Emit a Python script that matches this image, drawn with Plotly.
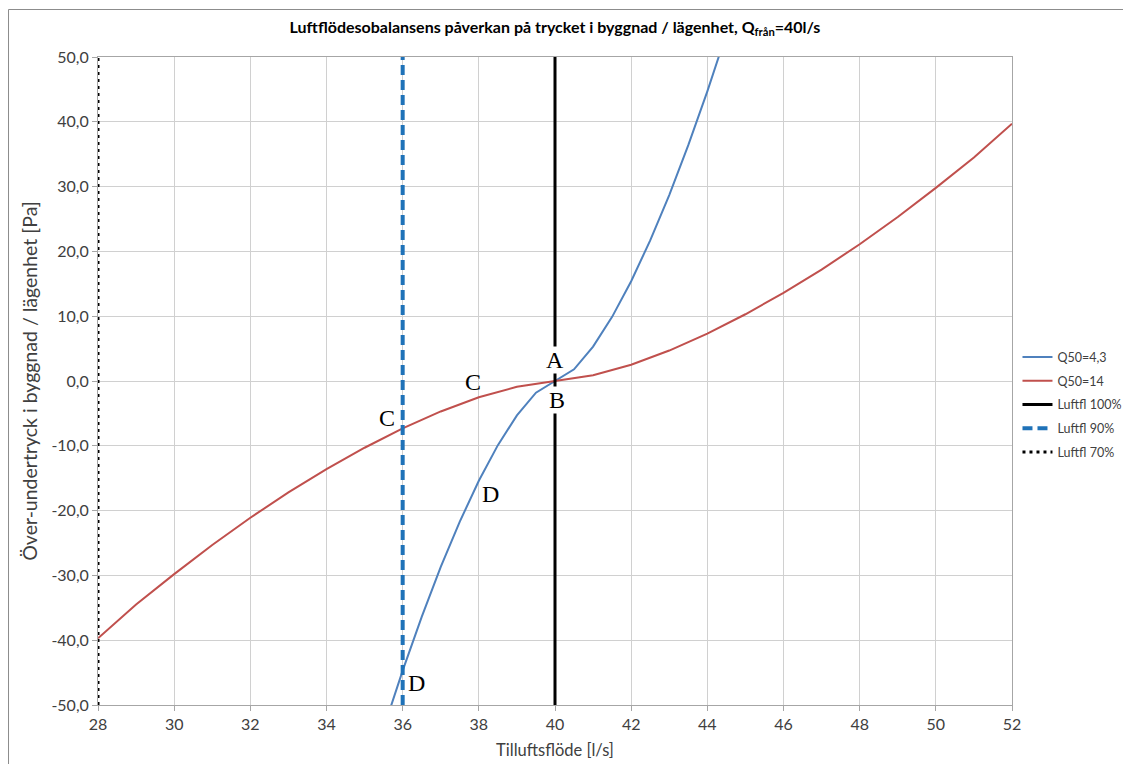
import plotly.graph_objects as go

# ---- data ----
red_name = "Q50=14"
red_x = [28, 29, 30, 31, 32, 33, 34, 35, 36, 37, 38, 39, 40, 41, 42, 43, 44, 45, 46, 47, 48, 49, 50, 51, 52]
red_y = [-39.7, -34.5, -29.8, -25.3, -21.1, -17.2, -13.6, -10.3, -7.3, -4.7, -2.5, -0.9, 0.0,
         0.9, 2.5, 4.7, 7.3, 10.3, 13.6, 17.2, 21.1, 25.3, 29.8, 34.5, 39.7]

blue_name = "Q50=4,3"
blue_x = [35.5, 36, 36.5, 37, 37.5, 38, 38.5, 39, 39.5, 40, 40.5, 41, 41.5, 42, 42.5, 43, 43.5, 44, 44.5]
blue_y = [-53.6, -44.7, -36.4, -28.7, -21.7, -15.4, -9.9, -5.3, -1.8, 0.0,
          1.8, 5.3, 9.9, 15.4, 21.7, 28.7, 36.4, 44.7, 53.6]

v100_name = "Luftfl 100%"
v100_x = [40, 40]
v100_y = [-50, 50]

v90_name = "Luftfl 90%"
v90_x = [36, 36]
v90_y = [-50, 50]

v70_name = "Luftfl 70%"
v70_x = [28, 28]
v70_y = [-50, 50]

x_ticks = [28, 30, 32, 34, 36, 38, 40, 42, 44, 46, 48, 50, 52]
y_ticks = [-50, -40, -30, -20, -10, 0, 10, 20, 30, 40, 50]
y_ticklabels = ["-50,0", "-40,0", "-30,0", "-20,0", "-10,0", "0,0", "10,0", "20,0", "30,0", "40,0", "50,0"]

point_labels = ["A", "B", "C", "C", "D", "D"]
point_x = [40.0, 40.05, 35.6, 37.85, 38.3, 36.35]
point_y = [3.2, -2.9, -5.7, -0.1, -17.4, -46.6]
point_bg = [True, True, False, False, False, False]

title_text = "<b>Luftflödesobalansens påverkan på trycket i byggnad / lägenhet, Q<sub>från</sub>=40l/s</b>"
x_title = "Tilluftsflöde [l/s]"
y_title = "Över-undertryck i byggnad / lägenhet [Pa]"

FONT = "Lato, 'Open Sans', sans-serif"
GREY = "#404040"

fig = go.Figure()
fig.add_trace(go.Scatter(x=blue_x, y=blue_y, mode="lines", name=blue_name, legendgroup="g1",
                         line=dict(color="#4F81BD", width=2)))
fig.add_trace(go.Scatter(x=red_x, y=red_y, mode="lines", name=red_name, legendgroup="g2",
                         line=dict(color="#C0504D", width=2)))
fig.add_trace(go.Scatter(x=v100_x, y=v100_y, mode="lines", name=v100_name, legendgroup="g3",
                         line=dict(color="#000000", width=3)))
fig.add_trace(go.Scatter(x=v90_x, y=v90_y, mode="lines", name=v90_name, legendgroup="g4",
                         line=dict(color="#1F72B8", width=4, dash="10px,5px")))
fig.add_trace(go.Scatter(x=v70_x, y=v70_y, mode="lines", name=v70_name, legendgroup="g5",
                         line=dict(color="#000000", width=3, dash="3px,4px")))

for t, x, y, bg in zip(point_labels, point_x, point_y, point_bg):
    fig.add_annotation(x=x, y=y, text=t, showarrow=False,
                       font=dict(family="'Liberation Serif', 'Times New Roman', serif", size=24, color="#000000"),
                       bgcolor="#FFFFFF" if bg else "rgba(0,0,0,0)", borderpad=0)

# outer chart frame (top and left edges visible)
fig.add_shape(type="line", xref="paper", yref="paper", x0=-0.0979, x1=1.2, y0=1.0733, y1=1.0733,
              line=dict(color="#8C8C8C", width=1))
fig.add_shape(type="line", xref="paper", yref="paper", x0=-0.0979, x1=-0.0979, y0=-0.2, y1=1.0733,
              line=dict(color="#8C8C8C", width=1))

W, H = 1123, 756
fig.update_layout(
    width=W, height=H,
    margin=dict(l=90, r=119, t=49, b=59, autoexpand=False),
    paper_bgcolor="#FFFFFF", plot_bgcolor="#FFFFFF",
    font=dict(family=FONT, size=15, color=GREY),
    title=dict(text=title_text, x=0.5, xref="paper", xanchor="center",
               y=1 - 19 / H, yref="container", yanchor="middle",
               font=dict(family=FONT, size=16, color="#000000")),
    showlegend=True,
    legend=dict(x=1.006, xanchor="left", y=0.463, yanchor="middle", bgcolor="rgba(0,0,0,0)",
                font=dict(family=FONT, size=12.5, color=GREY), itemwidth=30,
                tracegroupgap=4.5, traceorder="grouped"),
    xaxis=dict(range=[28, 52], tickvals=x_ticks, ticktext=[str(v) for v in x_ticks],
               showgrid=True, gridcolor="#D0D0D0", gridwidth=1, zeroline=False,
               showline=True, linecolor="#A6A6A6", linewidth=1, mirror=True,
               ticks="outside", ticklen=5, tickcolor="#A6A6A6", automargin=False,
               title=dict(text=x_title, font=dict(family=FONT, size=16.5, color=GREY), standoff=12),
               tickfont=dict(family=FONT, size=16, color=GREY)),
    yaxis=dict(range=[-50, 50], tickvals=y_ticks, ticktext=y_ticklabels,
               showgrid=True, gridcolor="#D0D0D0", gridwidth=1, zeroline=False,
               showline=True, linecolor="#A6A6A6", linewidth=1, mirror=True,
               ticks="outside", ticklen=5, tickcolor="#A6A6A6", automargin=False,
               title=dict(text=y_title, font=dict(family=FONT, size=19.5, color=GREY), standoff=8),
               tickfont=dict(family=FONT, size=16, color=GREY)),
)

fig.write_html("out.html")
